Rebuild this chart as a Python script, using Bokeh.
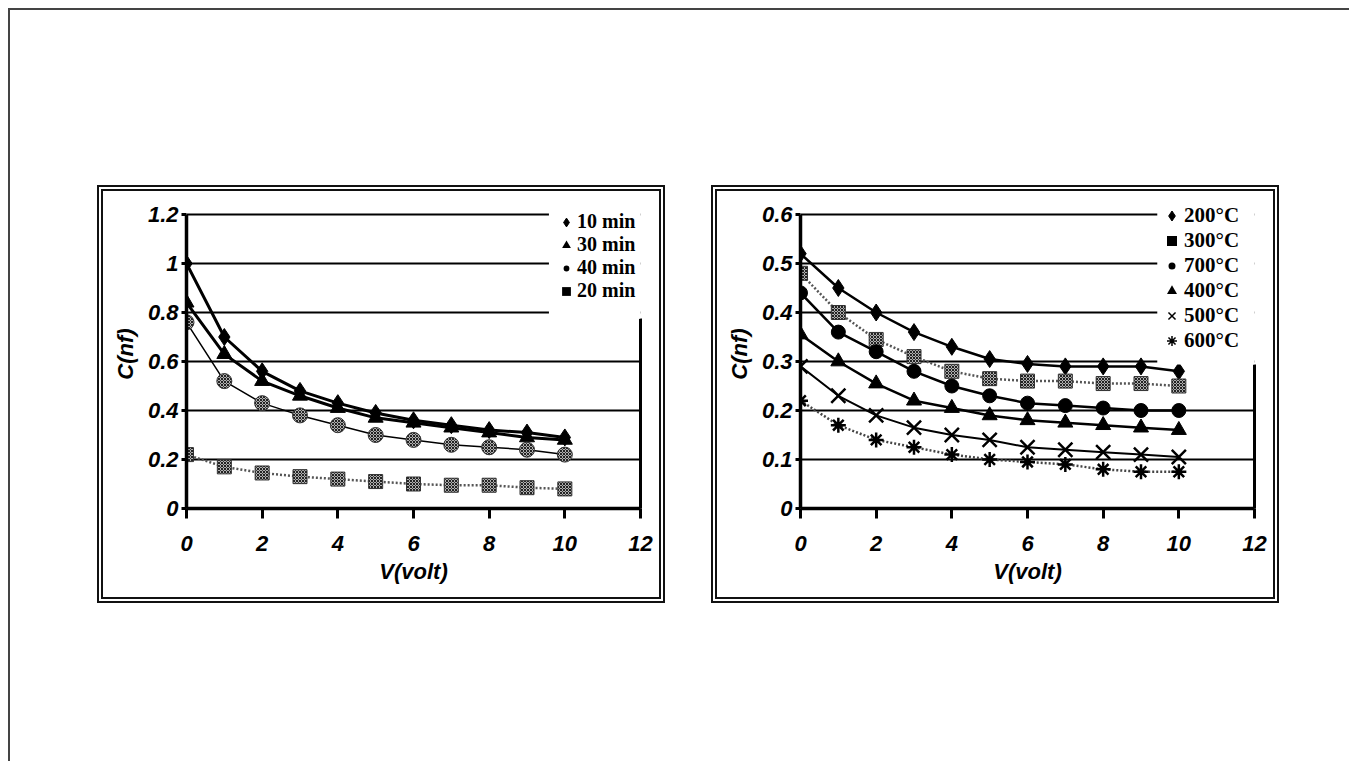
from bokeh.plotting import figure
from bokeh.models import LinearAxis, FixedTicker, Legend, LegendItem, BoxAnnotation
from bokeh.layouts import row, column
from bokeh.embed import file_html
from bokeh.resources import INLINE

# ---------------- data ----------------
volts = [0, 1, 2, 3, 4, 5, 6, 7, 8, 9, 10]

left_series_names = ["10 min", "30 min", "40 min", "20 min"]
c_10min = [1.00, 0.70, 0.56, 0.48, 0.43, 0.39, 0.36, 0.34, 0.32, 0.31, 0.29]
c_30min = [0.84, 0.63, 0.52, 0.46, 0.41, 0.37, 0.35, 0.33, 0.31, 0.29, 0.28]
c_40min = [0.76, 0.52, 0.43, 0.38, 0.34, 0.30, 0.28, 0.26, 0.25, 0.24, 0.22]
c_20min = [0.22, 0.17, 0.145, 0.13, 0.12, 0.11, 0.10, 0.095, 0.095, 0.085, 0.08]

right_series_names = ["200°C", "300°C", "700°C", "400°C", "500°C", "600°C"]
c_200C = [0.52, 0.45, 0.40, 0.36, 0.33, 0.305, 0.295, 0.29, 0.29, 0.29, 0.28]
c_300C = [0.48, 0.40, 0.345, 0.31, 0.28, 0.265, 0.26, 0.26, 0.255, 0.255, 0.25]
c_700C = [0.44, 0.36, 0.32, 0.28, 0.25, 0.23, 0.215, 0.21, 0.205, 0.20, 0.20]
c_400C = [0.355, 0.30, 0.255, 0.22, 0.205, 0.19, 0.18, 0.175, 0.17, 0.165, 0.16]
c_500C = [0.29, 0.23, 0.19, 0.165, 0.15, 0.14, 0.125, 0.12, 0.115, 0.11, 0.105]
c_600C = [0.22, 0.17, 0.14, 0.125, 0.11, 0.10, 0.095, 0.09, 0.08, 0.075, 0.075]

x_ticks = [0, 2, 4, 6, 8, 10, 12]
x_tick_labels = ["0", "2", "4", "6", "8", "10", "12"]
left_y_ticks = [0, 0.2, 0.4, 0.6, 0.8, 1.0, 1.2]
left_y_tick_labels = ["0", "0.2", "0.4", "0.6", "0.8", "1", "1.2"]
right_y_ticks = [0, 0.1, 0.2, 0.3, 0.4, 0.5, 0.6]
right_y_tick_labels = ["0", "0.1", "0.2", "0.3", "0.4", "0.5", "0.6"]
x_title = "V(volt)"
y_title = "C(nf)"

# ---------------- styles ----------------
HATCH = dict(fill_color="#b0b0b0", hatch_pattern="diagonal_cross", hatch_color="#222",
             hatch_scale=3, hatch_weight=1, line_color="#333", line_width=1)
TICK_FONT = "Liberation Sans"
FRAME_H = 294      # pixels between 0 and the top tick
TOP_PAD = 15       # extra frame room above the top tick (for the legend)


def make_panel(ymax, yticks, ylabels, series, cover_left, cover_bottom,
               leg_loc, leg_font, leg_gh):
    yend = ymax * (FRAME_H + TOP_PAD) / FRAME_H
    p = figure(frame_width=454, frame_height=FRAME_H + TOP_PAD, x_range=(0, 12),
               y_range=(0, yend),
               min_border_left=83, min_border_right=19, min_border_top=23 - TOP_PAD,
               min_border_bottom=89, output_backend="svg", toolbar_location=None,
               background_fill_color="white", border_fill_color="white",
               outline_line_color=None)

    ax = p.xaxis[0]
    ax.ticker = FixedTicker(ticks=x_ticks)
    ax.major_label_overrides = {t: l for t, l in zip(x_ticks, x_tick_labels)}
    ax.axis_label = x_title
    ay = p.yaxis[0]
    ay.ticker = FixedTicker(ticks=yticks)
    ay.major_label_overrides = {t: l for t, l in zip(yticks, ylabels)}
    ay.axis_label = y_title
    ay.bounds = (0, ymax)
    for a in (ax, ay):
        a.axis_line_width = 3.5
        a.axis_line_color = "black"
        a.major_tick_line_width = 3
        a.major_tick_line_color = "black"
        a.major_tick_in = 0
        a.minor_tick_line_color = None
        a.major_label_text_font = TICK_FONT
        a.major_label_text_font_style = "bold italic"
        a.major_label_text_font_size = "22px"
        a.major_label_text_color = "black"
        a.axis_label_text_font = TICK_FONT
        a.axis_label_text_font_style = "bold italic"
        a.axis_label_text_font_size = "22px"
        a.axis_label_text_color = "black"
    ax.major_tick_out = 10
    ax.major_label_standoff = 17
    ax.axis_label_standoff = 5
    ay.major_tick_out = 5
    ay.major_label_standoff = 3
    ay.axis_label_standoff = 7

    p.xgrid.grid_line_color = None
    p.ygrid.grid_line_color = "black"
    p.ygrid.grid_line_width = 2

    # plot-area right border (partly hidden behind the legend)
    rax = LinearAxis(bounds=(0, cover_bottom), ticker=FixedTicker(ticks=[]),
                     axis_line_width=3, axis_line_color="black",
                     major_tick_line_color=None, minor_tick_line_color=None,
                     major_label_text_font_size="0px")
    p.add_layout(rax, "right")

    for s in series:
        ls = s["line"]
        p.line(volts, s["y"], line_color=ls.get("color", "black"),
               line_width=ls.get("width", 2.5), line_dash=ls.get("dash", "solid"))
    for s in series:
        p.scatter(volts, s["y"], **s["marker"])
    items = []
    for s in series:
        # zero-size twin of the series: invisible in the plot, solid key in the legend
        key = p.scatter(volts, s["y"], size=0, **s["legend"])
        items.append(LegendItem(label=s["name"], renderers=[key]))

    # white area behind the legend
    p.add_layout(BoxAnnotation(left=cover_left, bottom=cover_bottom,
                               fill_color="white", fill_alpha=1, line_color=None))
    leg = Legend(items=items, location=leg_loc, orientation="vertical",
                 background_fill_alpha=0, border_line_color=None, padding=0, margin=0,
                 spacing=0, glyph_width=leg_gh, glyph_height=leg_gh, label_height=leg_gh,
                 label_standoff=0, label_text_font="Liberation Serif",
                 label_text_font_style="bold", label_text_font_size=leg_font,
                 label_text_color="black")
    p.add_layout(leg)
    return p


BLACK = dict(fill_color="black", line_color="black", line_alpha=0)
SMALLDOT = dict(fill_color="black", line_color="white", line_width=3)
left_series = [
    dict(name=left_series_names[0], y=c_10min, line=dict(width=3),
         marker=dict(marker="diamond", size=17, fill_color="black", line_color="black"),
         legend=dict(marker="diamond", fill_color="black", line_color="black", line_width=1)),
    dict(name=left_series_names[1], y=c_30min, line=dict(width=3),
         marker=dict(marker="triangle", size=15, fill_color="black", line_color="black"),
         legend=dict(marker="triangle", **BLACK)),
    dict(name=left_series_names[2], y=c_40min, line=dict(width=1.5),
         marker=dict(marker="circle", size=15, **HATCH),
         legend=dict(marker="circle", **SMALLDOT)),
    dict(name=left_series_names[3], y=c_20min, line=dict(width=2.5, color="#555", dash="2 2"),
         marker=dict(marker="square", size=14, **HATCH),
         legend=dict(marker="square", **BLACK)),
]

right_series = [
    dict(name=right_series_names[0], y=c_200C, line=dict(width=2.5),
         marker=dict(marker="diamond", size=17, fill_color="black", line_color="black"),
         legend=dict(marker="diamond", fill_color="black", line_color="black", line_width=1)),
    dict(name=right_series_names[1], y=c_300C, line=dict(width=2.5, color="#555", dash="2 2"),
         marker=dict(marker="square", size=14, **HATCH),
         legend=dict(marker="square", **BLACK)),
    dict(name=right_series_names[2], y=c_700C, line=dict(width=2.5),
         marker=dict(marker="circle", size=14, fill_color="black", line_color="black"),
         legend=dict(marker="circle", **SMALLDOT)),
    dict(name=right_series_names[3], y=c_400C, line=dict(width=2.5),
         marker=dict(marker="triangle", size=15, fill_color="black", line_color="black"),
         legend=dict(marker="triangle", **BLACK)),
    dict(name=right_series_names[4], y=c_500C, line=dict(width=2),
         marker=dict(marker="x", size=20, line_color="black", line_width=2.5),
         legend=dict(marker="x", line_color="black", line_width=1.5)),
    dict(name=right_series_names[5], y=c_600C, line=dict(width=2.5, color="#444", dash="2 2"),
         marker=dict(marker="asterisk", size=15, line_color="black", line_width=2.5),
         legend=dict(marker="asterisk", line_color="black", line_width=1.5)),
]

p1 = make_panel(1.2, left_y_ticks, left_y_tick_labels, left_series,
                cover_left=9.58, cover_bottom=0.775, leg_loc=(369, 206),
                leg_font="20px", leg_gh=22)
p2 = make_panel(0.6, right_y_ticks, right_y_tick_labels, right_series,
                cover_left=9.43, cover_bottom=0.294, leg_loc=(359, 155),
                leg_font="21px", leg_gh=25)

FRAME = {"border": "6px double #111", "background-color": "white"}
left_panel = column(p1, styles=FRAME, margin=(175, 0, 0, 87))
right_panel = column(p2, styles=FRAME, margin=(175, 0, 0, 46))
root = row(left_panel, right_panel, width=1341, height=753, margin=(8, 0, 0, 8),
           styles={"border-top": "2px solid #444", "border-left": "2px solid #444",
                   "background-color": "white"})

open("out.html", "w").write(file_html(root, INLINE))
